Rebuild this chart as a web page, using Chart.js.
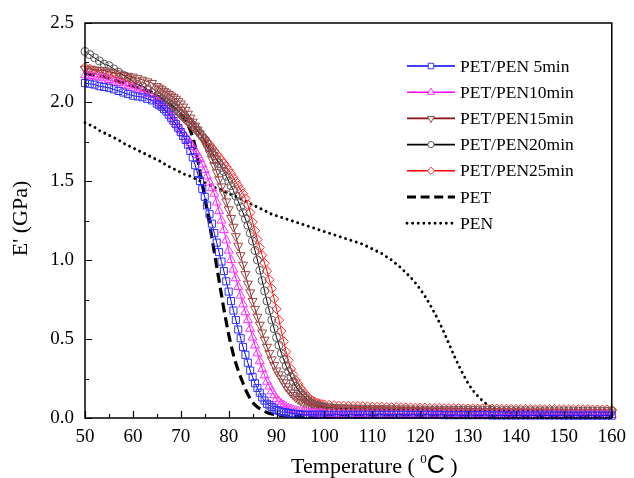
<!DOCTYPE html>
<html>
<head>
<meta charset="utf-8">
<script src="https://cdn.jsdelivr.net/npm/chart.js@4.4.1/dist/chart.umd.min.js"></script>
<style>
html,body{margin:0;padding:0;background:#fff;}
#wrap{width:634px;height:478px;}
</style>
</head>
<body>
<div id="wrap"><canvas id="c" width="634" height="478"></canvas></div>
<script>
// ---- data ----
// temperatures of the marker series (denser sampling through the transition)
const tempsMarked = [
50,51,52,53,54,55,56,57,58,59,60,61,62,63,64,
65,65.5,66,66.5,67,67.5,68,68.5,69,69.5,
70,70.5,71,71.5,72,72.5,73,73.5,74,74.5,
75,75.5,76,76.5,77,77.5,78,78.5,79,79.5,
80,80.5,81,81.5,82,82.5,83,83.5,84,84.5,
85,85.5,86,86.5,87,87.5,88,88.5,89,89.5,
90,90.5,91,91.5,92,92.5,93,93.5,94,94.5,
95,95.5,96,96.5,97,97.5,98,98.5,99,99.5,
100,
101,102,103,104,105,106,107,108,109,
110,111,112,113,114,115,116,117,118,119,
120,121,122,123,124,125,126,127,128,129,
130,131,132,133,134,135,136,137,138,139,
140,141,142,143,144,145,146,147,148,149,
150,151,152,153,154,155,156,157,158,159,
160];

// temperatures of the plain line series (PET, PEN)
const tempsLine = [
50,51,52,53,54,55,56,57,58,59,
60,61,62,63,64,65,66,67,68,69,
70,71,72,73,74,75,76,77,78,79,
80,81,82,83,84,85,86,87,88,89,
90,91,92,93,94,95,96,97,98,99,
100,101,102,103,104,105,106,107,108,109,
110,111,112,113,114,115,116,117,118,119,
120,121,122,123,124,125,126,127,128,129,
130,131,132,133,134,135,136,137,138,139,
140,141,142,143,144,145,146,147,148,149,
150,151,152,153,154,155,156,157,158,159,
160];

const petPen5 = [
2.12,2.115,2.11,2.10,2.095,2.09,2.08,2.07,2.06,2.05,2.04,2.035,2.03,2.02,2.01,
1.99,1.98,1.97,1.955,1.94,1.92,1.90,1.88,1.86,1.835,
1.81,1.785,1.76,1.73,1.69,1.65,1.60,1.55,1.50,1.45,
1.40,1.345,1.29,1.23,1.17,1.11,1.05,0.99,0.93,0.865,
0.80,0.74,0.68,0.62,0.56,0.505,0.45,0.40,0.35,0.30,
0.26,0.22,0.19,0.16,0.13,0.11,0.09,0.08,0.07,0.06,
0.05,0.045,0.04,0.037,0.035,0.032,0.03,0.027,0.025,0.023,
0.022,0.021,0.02,0.02,0.02,0.02,0.02,0.02,0.02,0.02,
0.02,
0.02,0.02,0.02,0.02,0.02,0.02,0.02,0.02,0.02,
0.02,0.02,0.02,0.02,0.02,0.02,0.02,0.02,0.02,0.02,
0.02,0.02,0.02,0.02,0.02,0.018,0.018,0.018,0.018,0.018,
0.018,0.018,0.018,0.018,0.018,0.016,0.016,0.016,0.016,0.016,
0.016,0.016,0.016,0.016,0.016,0.016,0.016,0.016,0.016,0.016,
0.015,0.015,0.015,0.015,0.015,0.015,0.015,0.015,0.015,0.015,
0.015];

const petPen10 = [
2.17,2.165,2.16,2.155,2.15,2.14,2.13,2.12,2.11,2.10,2.09,2.08,2.065,2.05,2.03,
2.01,1.995,1.98,1.965,1.95,1.93,1.91,1.885,1.86,1.84,
1.82,1.80,1.78,1.76,1.74,1.715,1.69,1.665,1.64,1.605,
1.57,1.53,1.49,1.455,1.42,1.365,1.31,1.25,1.19,1.125,
1.06,1.00,0.94,0.885,0.83,0.775,0.72,0.67,0.62,0.565,
0.51,0.46,0.41,0.36,0.31,0.27,0.23,0.20,0.17,0.145,
0.12,0.105,0.09,0.08,0.07,0.062,0.055,0.05,0.045,0.042,
0.04,0.037,0.035,0.033,0.032,0.031,0.03,0.029,0.028,0.028,
0.027,
0.026,0.025,0.025,0.025,0.025,0.024,0.024,0.024,0.024,
0.023,0.023,0.023,0.023,0.023,0.023,0.023,0.023,0.023,0.023,
0.022,0.022,0.022,0.022,0.022,0.022,0.022,0.022,0.022,0.022,
0.022,0.022,0.022,0.022,0.022,0.021,0.021,0.021,0.021,0.021,
0.02,0.02,0.02,0.02,0.02,0.02,0.02,0.02,0.02,0.02,
0.02,0.02,0.02,0.02,0.02,0.02,0.02,0.02,0.02,0.02,
0.02];

const petPen15 = [
2.21,2.21,2.205,2.20,2.20,2.19,2.185,2.18,2.17,2.165,2.16,2.15,2.14,2.13,2.12,
2.10,2.09,2.08,2.07,2.06,2.05,2.04,2.03,2.02,2.005,
1.99,1.97,1.95,1.925,1.90,1.875,1.85,1.825,1.80,1.775,
1.75,1.715,1.68,1.64,1.60,1.555,1.51,1.465,1.42,1.37,
1.32,1.265,1.21,1.15,1.09,1.03,0.97,0.91,0.85,0.795,
0.74,0.69,0.64,0.59,0.54,0.495,0.45,0.41,0.37,0.335,
0.30,0.275,0.25,0.225,0.20,0.18,0.16,0.145,0.13,0.12,
0.11,0.10,0.095,0.09,0.085,0.08,0.075,0.071,0.068,0.065,
0.062,
0.058,0.055,0.053,0.052,0.051,0.05,0.05,0.049,0.049,
0.048,0.048,0.047,0.047,0.046,0.046,0.045,0.045,0.045,0.044,
0.044,0.044,0.043,0.043,0.043,0.042,0.042,0.042,0.041,0.041,
0.041,0.04,0.04,0.04,0.04,0.039,0.039,0.039,0.038,0.038,
0.038,0.038,0.037,0.037,0.037,0.037,0.036,0.036,0.036,0.036,
0.036,0.035,0.035,0.035,0.035,0.035,0.034,0.034,0.034,0.034,
0.034];

const petPen20 = [
2.32,2.30,2.28,2.26,2.24,2.23,2.21,2.19,2.17,2.15,2.13,2.11,2.10,2.08,2.06,
2.04,2.03,2.02,2.01,2.00,1.99,1.98,1.97,1.96,1.945,
1.93,1.915,1.90,1.885,1.87,1.855,1.84,1.82,1.80,1.78,
1.76,1.735,1.71,1.685,1.66,1.635,1.61,1.585,1.56,1.53,
1.50,1.47,1.44,1.405,1.37,1.335,1.30,1.26,1.22,1.17,
1.12,1.06,1.00,0.935,0.87,0.805,0.74,0.68,0.62,0.565,
0.51,0.46,0.41,0.37,0.33,0.295,0.26,0.23,0.20,0.18,
0.16,0.145,0.13,0.115,0.10,0.092,0.085,0.08,0.075,0.072,
0.07,
0.066,0.063,0.061,0.06,0.059,0.058,0.057,0.057,0.056,
0.056,0.055,0.055,0.054,0.054,0.053,0.053,0.053,0.052,0.052,
0.052,0.051,0.051,0.051,0.05,0.05,0.05,0.05,0.049,0.049,
0.049,0.049,0.048,0.048,0.048,0.048,0.047,0.047,0.047,0.047,
0.047,0.046,0.046,0.046,0.046,0.046,0.045,0.045,0.045,0.045,
0.045,0.045,0.044,0.044,0.044,0.044,0.044,0.044,0.043,0.043,
0.043];

const petPen25 = [
2.22,2.21,2.20,2.19,2.18,2.17,2.16,2.15,2.14,2.13,2.12,2.11,2.10,2.08,2.06,
2.04,2.03,2.02,2.01,2.00,1.99,1.98,1.965,1.95,1.935,
1.92,1.905,1.89,1.875,1.86,1.845,1.83,1.815,1.80,1.785,
1.77,1.75,1.73,1.71,1.69,1.67,1.65,1.63,1.61,1.59,
1.57,1.545,1.52,1.495,1.47,1.445,1.42,1.39,1.35,1.30,
1.24,1.185,1.13,1.08,1.03,0.98,0.93,0.875,0.82,0.755,
0.69,0.62,0.55,0.485,0.42,0.365,0.31,0.275,0.24,0.215,
0.19,0.17,0.15,0.135,0.12,0.11,0.10,0.095,0.09,0.087,
0.085,
0.082,0.08,0.078,0.077,0.076,0.075,0.074,0.073,0.072,
0.071,0.07,0.07,0.069,0.068,0.068,0.067,0.066,0.066,0.065,
0.065,0.064,0.064,0.063,0.063,0.062,0.062,0.061,0.061,0.06,
0.06,0.06,0.059,0.059,0.059,0.058,0.058,0.058,0.057,0.057,
0.057,0.057,0.056,0.056,0.056,0.056,0.055,0.055,0.055,0.055,
0.055,0.054,0.054,0.054,0.054,0.054,0.053,0.053,0.053,0.053,
0.053];

const pet = [
2.18,2.175,2.17,2.165,2.16,2.15,2.14,2.13,2.12,2.11,
2.10,2.09,2.08,2.07,2.06,2.04,2.02,2.00,1.98,1.95,
1.92,1.88,1.82,1.72,1.56,1.40,1.23,1.05,0.87,0.69,
0.53,0.40,0.30,0.22,0.15,0.10,0.07,0.05,0.035,0.025,
0.02,0.015,0.012,0.01,0.01,0.01,0.01,0.01,0.01,0.01,
0.01,0.01,0.01,0.01,0.01,0.01,0.01,0.01,0.01,0.01,
0.01,0.01,0.01,0.01,0.01,0.01,0.01,0.01,0.01,0.01,
0.01,0.01,0.01,0.01,0.01,0.01,0.01,0.01,0.01,0.01,
0.01,0.01,0.01,0.01,0.01,0.01,0.01,0.01,0.01,0.01,
0.01,0.01,0.01,0.01,0.01,0.01,0.01,0.01,0.01,0.01,
0.01,0.01,0.01,0.01,0.01,0.01,0.01,0.01,0.01,0.01,
0.01];

const pen = [
1.87,1.855,1.84,1.82,1.805,1.79,1.775,1.76,1.74,1.725,
1.71,1.695,1.68,1.665,1.65,1.635,1.62,1.60,1.585,1.57,
1.555,1.54,1.53,1.515,1.50,1.49,1.475,1.46,1.45,1.435,
1.42,1.41,1.395,1.38,1.365,1.35,1.335,1.32,1.305,1.29,
1.28,1.27,1.26,1.25,1.24,1.23,1.22,1.21,1.20,1.19,
1.18,1.17,1.16,1.15,1.14,1.13,1.12,1.11,1.10,1.085,
1.07,1.055,1.04,1.02,1.00,0.975,0.95,0.92,0.89,0.855,
0.815,0.77,0.72,0.665,0.605,0.54,0.47,0.40,0.335,0.275,
0.22,0.175,0.14,0.11,0.085,0.065,0.052,0.043,0.036,0.031,
0.028,0.026,0.025,0.024,0.023,0.023,0.022,0.022,0.022,0.021,
0.021,0.021,0.021,0.02,0.02,0.02,0.02,0.02,0.02,0.02,
0.02];

const seriesLabels = ['PET/PEN 5min','PET/PEN10min','PET/PEN15min','PET/PEN20min','PET/PEN25min','PET','PEN'];
const xTickLabels = ['50','60','70','80','90','100','110','120','130','140','150','160'];
const yTickLabels = ['0.0','0.5','1.0','1.5','2.0','2.5'];
const xTitle = ['Temperature ( ', '0', 'C', ' )'];
const yTitle = "E' (GPa)";

// ---- build ----
const pts = (xs, arr) => xs.map((t, i) => ({x: t, y: arr[i]}));
const SERIF = "'Liberation Serif','Times New Roman',serif";

const datasets = [
  {label: seriesLabels[0], data: pts(tempsMarked, petPen5), borderColor: '#0000ff', pointBorderColor: '#3030ff', pointStyle: 'rect', pointRadius: 5, rotation: 0},
  {label: seriesLabels[1], data: pts(tempsMarked, petPen10), borderColor: '#ff00ff', pointBorderColor: '#ff30ff', pointStyle: 'triangle', pointRadius: 5.2, rotation: 0},
  {label: seriesLabels[2], data: pts(tempsMarked, petPen15), borderColor: '#8b1010', pointBorderColor: '#9a4848', pointStyle: 'triangle', pointRadius: 5.2, rotation: 180},
  {label: seriesLabels[3], data: pts(tempsMarked, petPen20), borderColor: '#000000', pointBorderColor: '#5a5a5a', pointStyle: 'circle', pointRadius: 4, rotation: 0},
  {label: seriesLabels[4], data: pts(tempsMarked, petPen25), borderColor: '#ff0000', pointBorderColor: '#ff2828', pointStyle: 'rectRot', pointRadius: 4.7, rotation: 0},
  {label: seriesLabels[5], data: pts(tempsLine, pet), borderColor: '#000000', borderWidth: 3.2, borderDash: [10, 5], pointRadius: 0, cubicInterpolationMode: 'monotone'},
  {label: seriesLabels[6], data: pts(tempsLine, pen), borderColor: '#000000', borderWidth: 2.9, borderDash: [0.01, 5.6], borderCapStyle: 'round', pointRadius: 0, cubicInterpolationMode: 'monotone'}
].map((d, i) => Object.assign({
  borderWidth: 1,
  pointBackgroundColor: 'rgba(255,255,255,0)',
  pointBorderWidth: 1,
  backgroundColor: 'rgba(0,0,0,0)',
  fill: false,
  clip: false,
  order: i
}, d));

const framePlugin = {
  id: 'frame',
  afterDatasetsDraw(chart) {
    const ctx = chart.ctx, a = chart.chartArea;
    const xs = chart.scales.x, ys = chart.scales.y;
    ctx.save();
    ctx.strokeStyle = '#000';
    ctx.lineWidth = 1.5;
    ctx.strokeRect(a.left, a.top, a.right - a.left, a.bottom - a.top);
    ctx.lineWidth = 1.2;
    ctx.beginPath();
    xs.ticks.forEach((t, i) => {
      const p = Math.round(xs.getPixelForValue(t.value)) + 0.5;
      ctx.moveTo(p, a.bottom); ctx.lineTo(p, a.bottom - 7);
      if (i < xs.ticks.length - 1) {
        const m = Math.round(xs.getPixelForValue((t.value + xs.ticks[i + 1].value) / 2)) + 0.5;
        ctx.moveTo(m, a.bottom); ctx.lineTo(m, a.bottom - 4);
      }
    });
    ys.ticks.forEach((t, i) => {
      const p = Math.round(ys.getPixelForValue(t.value)) + 0.5;
      ctx.moveTo(a.left, p); ctx.lineTo(a.left + 7, p);
      if (i < ys.ticks.length - 1) {
        const m = Math.round(ys.getPixelForValue((t.value + ys.ticks[i + 1].value) / 2)) + 0.5;
        ctx.moveTo(a.left, m); ctx.lineTo(a.left + 4, m);
      }
    });
    ctx.stroke();
    ctx.restore();
  },
  afterDraw(chart) {
    const ctx = chart.ctx, a = chart.chartArea;
    ctx.save();
    ctx.fillStyle = '#000';
    // y title
    ctx.save();
    ctx.translate(21, (a.top + a.bottom) / 2 - 2);
    ctx.rotate(-Math.PI / 2);
    ctx.font = '22px ' + SERIF;
    ctx.textAlign = 'center';
    ctx.textBaseline = 'middle';
    ctx.fillText(yTitle, 0, 0);
    ctx.restore();
    // x title
    const f1 = '22px ' + SERIF, fSup = '13px ' + SERIF, fC = '25px "Liberation Sans", Arial, sans-serif';
    ctx.font = f1; const w1 = ctx.measureText(xTitle[0]).width; const w4 = ctx.measureText(xTitle[3]).width;
    ctx.font = fSup; const w2 = ctx.measureText(xTitle[1]).width;
    ctx.font = fC; const w3 = ctx.measureText(xTitle[2]).width;
    const total = w1 + w2 + w3 + w4;
    let x = (a.left + a.right) / 2 - total / 2 + 26;
    const base = 473;
    ctx.textBaseline = 'alphabetic'; ctx.textAlign = 'left';
    ctx.font = f1; ctx.fillText(xTitle[0], x, base); x += w1;
    ctx.font = fSup; ctx.fillText(xTitle[1], x, base - 10); x += w2;
    ctx.font = fC; ctx.fillText(xTitle[2], x, base); x += w3;
    ctx.font = f1; ctx.fillText(xTitle[3], x, base);
    // legend
    const lx0 = 407, lx1 = 455, tx = 460, y0 = 66, dy = 26.2;
    chart.data.datasets.forEach((d, i) => {
      const y = y0 + i * dy;
      ctx.save();
      ctx.strokeStyle = d.borderColor;
      const isLine = d.pointRadius === 0;
      ctx.lineWidth = isLine ? d.borderWidth : 1.6;
      ctx.setLineDash(isLine ? (i === 5 ? [9, 4.6] : d.borderDash) : []);
      ctx.lineCap = d.borderCapStyle || 'butt';
      ctx.beginPath(); ctx.moveTo(lx0, y); ctx.lineTo(lx1, y); ctx.stroke();
      ctx.restore();
      if (!isLine) {
        ctx.save();
        ctx.fillStyle = '#fff';
        ctx.strokeStyle = d.pointBorderColor;
        ctx.lineWidth = 1;
        Chart.helpers.drawPoint(ctx, {pointStyle: d.pointStyle, rotation: d.rotation, radius: d.pointRadius * 0.78, borderWidth: 1}, (lx0 + lx1) / 2, y);
        ctx.restore();
      }
      ctx.font = '17.5px ' + SERIF;
      ctx.fillStyle = '#000';
      ctx.textAlign = 'left';
      ctx.textBaseline = 'middle';
      ctx.fillText(d.label, tx, y + 1);
    });
    ctx.restore();
  }
};

Chart.defaults.color = '#000';
new Chart(document.getElementById('c'), {
  type: 'line',
  data: {datasets},
  options: {
    responsive: false,
    animation: false,
    events: [],
    layout: {padding: {top: 23, right: 18, left: 0, bottom: 0}},
    plugins: {legend: {display: false}, tooltip: {enabled: false}},
    elements: {line: {tension: 0}},
    scales: {
      x: {
        type: 'linear', min: 50, max: 160,
        grid: {display: false, drawTicks: false},
        border: {display: false},
        afterFit: s => { s.height = 60; },
        afterBuildTicks: s => { s.ticks = xTickLabels.map(v => ({value: Number(v)})); },
        ticks: {padding: 8, font: {family: SERIF, size: 19}, maxRotation: 0, autoSkip: false,
          callback: (v, i) => xTickLabels[i]}
      },
      y: {
        type: 'linear', min: 0, max: 2.5,
        grid: {display: false, drawTicks: false},
        border: {display: false},
        afterFit: s => { s.width = 85; },
        afterBuildTicks: s => { s.ticks = yTickLabels.map(v => ({value: Number(v)})); },
        ticks: {padding: 11, font: {family: SERIF, size: 19}, autoSkip: false,
          callback: (v, i) => yTickLabels[i]}
      }
    }
  },
  plugins: [framePlugin]
});
</script>
</body>
</html>
